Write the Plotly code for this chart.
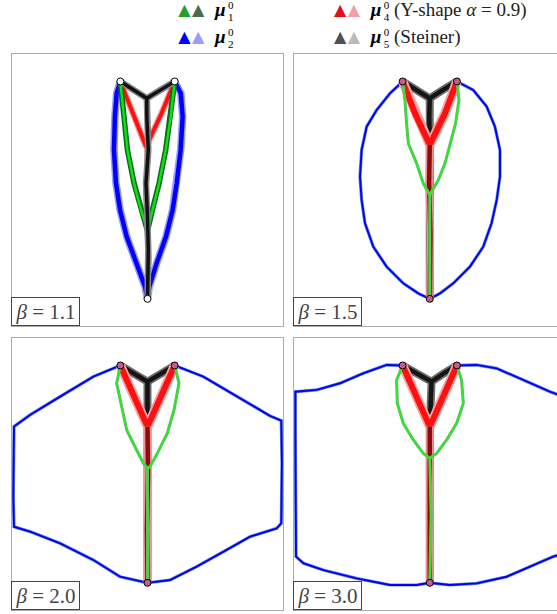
import plotly.graph_objects as go

W, H = 557, 614

TERM_X = [-0.2, 0.2, 0.0]
TERM_Y = [0.8, 0.8, -0.8]
BETAS = ["1.1", "1.5", "2.0", "3.0"]

# ---- panel 1 (beta = 1.1)
P1_BLUE = [(-0.2, 0.8), (-0.227, 0.713), (-0.240, 0.541), (-0.247, 0.296), (-0.232, 0.05), (-0.202, -0.146),
           (-0.153, -0.343), (-0.08, -0.539), (-0.018, -0.711), (0, -0.8), (0.013, -0.711), (0.067, -0.539),
           (0.136, -0.343), (0.185, -0.146), (0.215, 0.05), (0.244, 0.296), (0.259, 0.541), (0.245, 0.713), (0.2, 0.8)]
P1_GREEN = [(-0.2, 0.8), (-0.173, 0.541), (-0.148, 0.296), (-0.099, 0.05), (-0.048, -0.146), (0, -0.3),
            (0.036, -0.146), (0.085, 0.05), (0.134, 0.296), (0.171, 0.541), (0.2, 0.8), None,
            (0, -0.3), (0.008, -0.5), (0, -0.8)]
P1_RED_ARMS = [(-0.2, 0.8), (-0.104, 0.566), (-0.01, 0.32), (0.104, 0.566), (0.2, 0.8)]
P1_RED_STEM = [(-0.01, 0.32), (-0.005, 0.05), (0, -0.3), (0, -0.8)]
P1_BLACK = [(-0.2, 0.8), (-0.1, 0.74), (-0.005, 0.676), (0.1, 0.74), (0.2, 0.8), None,
            (-0.005, 0.676), (-0.005, 0.541), (0.006, 0.296), (-0.011, 0.05), (0, -0.195),
            (0.006, -0.441), (0.002, -0.686), (0, -0.8)]

# ---- panel 2 (beta = 1.5)
P2_BLUE = [(-0.2, 0.8), (-0.293, 0.713), (-0.391, 0.59), (-0.465, 0.467), (-0.502, 0.296), (-0.514, 0.099),
           (-0.502, -0.072), (-0.477, -0.244), (-0.416, -0.416), (-0.318, -0.563), (-0.195, -0.686),
           (-0.085, -0.76), (0, -0.8), (0.075, -0.76), (0.173, -0.686), (0.296, -0.563), (0.394, -0.416),
           (0.455, -0.244), (0.493, -0.072), (0.517, 0.099), (0.517, 0.296), (0.48, 0.467), (0.419, 0.615),
           (0.32, 0.737), (0.2, 0.8)]
P2_GREEN = [(-0.2, 0.8), (-0.183, 0.663), (-0.171, 0.491), (-0.158, 0.344), (-0.097, 0.197), (-0.048, 0.05),
            (0, -0.036), (0.063, 0.075), (0.112, 0.197), (0.153, 0.344), (0.19, 0.491), (0.215, 0.663),
            (0.2, 0.8), None, (0, -0.036), (0, -0.8)]
P2_RED_ARMS = [(-0.2, 0.8), (-0.109, 0.566), (0, 0.333), (0.112, 0.566), (0.2, 0.8)]
P2_RED_STEM = [(0, 0.333), (-0.005, 0.05), (0.005, -0.32), (0, -0.8)]
P2_BLACK = [(-0.2, 0.8), (-0.1, 0.74), (0, 0.676), (0.1, 0.74), (0.2, 0.8), None,
            (0, 0.676), (-0.004, 0.541), (0, 0.369), (0, -0.8)]

# ---- panel 3 (beta = 2.0)
P3_BLUE = [(-0.2, 0.8), (-0.399, 0.718), (-0.644, 0.571), (-0.865, 0.436), (-0.983, 0.35), (-0.988, 0.08),
           (-0.988, -0.166), (-0.983, -0.387), (-0.865, -0.423), (-0.644, -0.509), (-0.399, -0.632),
           (-0.202, -0.755), (0, -0.8), (0.166, -0.779), (0.362, -0.681), (0.583, -0.558), (0.755, -0.46),
           (0.951, -0.399), (0.985, -0.362), (0.99, 0.08), (0.985, 0.394), (0.902, 0.429), (0.656, 0.571),
           (0.411, 0.718), (0.2, 0.8)]
P3_GREEN = [(-0.2, 0.8), (-0.227, 0.669), (-0.19, 0.497), (-0.153, 0.325), (-0.092, 0.202), (-0.031, 0.08),
            (0, 0.043), (0.018, 0.055), (0.072, 0.153), (0.146, 0.301), (0.195, 0.472), (0.232, 0.669),
            (0.2, 0.8), None, (0, 0.043), (0, -0.8)]
P3_RED_ARMS = [(-0.2, 0.8), (-0.104, 0.583), (0, 0.35), (0.104, 0.583), (0.2, 0.8)]
P3_RED_STEM = [(0, 0.35), (0.004, 0.0), (-0.004, -0.4), (0, -0.8)]
P3_BLACK = [(-0.2, 0.8), (-0.1, 0.74), (0, 0.681), (0.1, 0.74), (0.2, 0.8), None,
            (0, 0.681), (0, 0.37), (0, -0.8)]

# ---- panel 4 (beta = 3.0)
P4_BLUE = [(-0.2, 0.8), (-0.318, 0.804), (-0.49, 0.742), (-0.661, 0.669), (-0.833, 0.62), (-0.99, 0.607),
           (-0.99, 0.325), (-0.99, -0.043), (-0.99, -0.411), (-0.985, -0.607), (-0.931, -0.656),
           (-0.784, -0.706), (-0.539, -0.767), (-0.293, -0.816), (-0.097, -0.816), (0, -0.8),
           (0.148, -0.816), (0.345, -0.804), (0.566, -0.755), (0.737, -0.681), (0.909, -0.607),
           (0.99, -0.583), (0.99, 0.57), (0.885, 0.607), (0.688, 0.693), (0.492, 0.779), (0.345, 0.804), (0.2, 0.8)]
P4_GREEN = [(-0.2, 0.8), (-0.244, 0.693), (-0.239, 0.521), (-0.195, 0.374), (-0.121, 0.252), (-0.048, 0.153),
            (0, 0.117), (0.05, 0.153), (0.124, 0.252), (0.198, 0.374), (0.247, 0.521), (0.234, 0.693),
            (0.2, 0.8), None, (0, 0.117), (0.01, -0.3), (0, -0.8)]
P4_RED_ARMS = [(-0.2, 0.8), (-0.102, 0.583), (0, 0.35), (0.104, 0.583), (0.2, 0.8)]
P4_RED_STEM = [(0, 0.35), (0, -0.8)]
P4_BLACK = [(-0.2, 0.8), (-0.09, 0.74), (0.013, 0.681), (0.1, 0.74), (0.2, 0.8), None,
            (0.013, 0.681), (0, 0.35), (0, -0.8)]

# ---- legend entries
LEG_COLORS = [("#22a02a", "#4a6a4a"), ("#0000ff", "#9b9bff"), ("#e0101a", "#f0a0a4"), ("#505050", "#bbbbbb")]
LEG_SUB = ["1", "2", "4", "5"]
LEG_EXTRA = ["", "", "(Y-shape <i>α</i> = 0.9)", "(Steiner)"]

PANELS = [
    dict(blue=P1_BLUE, green=P1_GREEN, red_arms=P1_RED_ARMS, red_stem=P1_RED_STEM, black=P1_BLACK),
    dict(blue=P2_BLUE, green=P2_GREEN, red_arms=P2_RED_ARMS, red_stem=P2_RED_STEM, black=P2_BLACK),
    dict(blue=P3_BLUE, green=P3_GREEN, red_arms=P3_RED_ARMS, red_stem=P3_RED_STEM, black=P3_BLACK),
    dict(blue=P4_BLUE, green=P4_GREEN, red_arms=P4_RED_ARMS, red_stem=P4_RED_STEM, black=P4_BLACK),
]

# pixel boxes of the panels (left, top, right, bottom) and x-range
BOXES = [(11.7, 54.3, 283.3, 326.0), (294.0, 54.3, 557.0, 326.0),
         (11.7, 338.3, 283.3, 610.0), (294.0, 338.3, 557.0, 610.0)]
XMAX = [1.0, 0.937, 1.0, 0.937]


def split(pts):
    xs, ys = [], []
    for p in pts:
        if p is None:
            xs.append(None); ys.append(None)
        else:
            xs.append(p[0]); ys.append(p[1])
    return xs, ys


fig = go.Figure()

for i, pan in enumerate(PANELS):
    ax = "" if i == 0 else str(i + 1)
    xr, yr = "x" + ax, "y" + ax
    if i == 0:
        styles = {
            "blue": [("#9a9aff", 7.5), ("#0000ff", 4.5)],
            "red_arms": [("#f0a0a0", 6.5), ("#ff1010", 4)],
            "red_stem": [("#c06060", 3.5), ("#8b0000", 2)],
            "green": [("#0a6a20", 5.5), ("#10e010", 2.5)],
            "black": [("#888888", 6.5), ("#111111", 3.5)],
        }
        order = ["blue", "red_arms", "red_stem", "green", "black"]
        term_fill = "white"
    else:
        styles = {
            "blue": [("#6a8ccc", 3.2), ("#0000ff", 1.9)],
            "black": [("#6e6e6e", 8), ("#151515", 4.5)],
            "red_arms": [("#f4a4a4", 9.5), ("#ff0f0f", 6)],
            "red_stem": [("#f09090", 7.5), ("#8a0c0c", 4.5)],
            "green": [("#8aa08a", 3), ("#22ee22", 2)],
        }
        order = ["blue", "black", "red_arms", "red_stem", "green"]
        term_fill = "#c0608a"
    for key in order:
        xs, ys = split(pan[key])
        for col, w in styles[key]:
            fig.add_trace(go.Scatter(x=xs, y=ys, mode="lines", xaxis=xr, yaxis=yr,
                                     line=dict(color=col, width=w),
                                     showlegend=False, hoverinfo="skip"))
    fig.add_trace(go.Scatter(x=TERM_X, y=TERM_Y, mode="markers", xaxis=xr, yaxis=yr,
                             marker=dict(symbol="circle", size=7, color=term_fill,
                                         line=dict(color="black", width=1)),
                             showlegend=False, hoverinfo="skip"))

    l, t, r, b = BOXES[i]
    fig.layout["xaxis" + ax] = dict(domain=[l / W, r / W], range=[-1, XMAX[i]], anchor=yr,
                                    showgrid=False, zeroline=False, showticklabels=False, ticks="",
                                    showline=True, linecolor="#aaaaaa", linewidth=1, mirror=True)
    fig.layout["yaxis" + ax] = dict(domain=[1 - b / H, 1 - t / H], range=[-1, 1], anchor=xr,
                                    showgrid=False, zeroline=False, showticklabels=False, ticks="",
                                    showline=True, linecolor="#aaaaaa", linewidth=1,
                                    mirror=(True if XMAX[i] >= 1 else False))

# ---- legend drawn on a full-page overlay axis (pixel units)
fig.layout["xaxis5"] = dict(domain=[0, 1], range=[0, W], visible=False, anchor="y5")
fig.layout["yaxis5"] = dict(domain=[0, 1], range=[H, 0], visible=False, anchor="x5")

serif = "Liberation Serif"
COLS = [(178.3, 3.5), (178.3, 30.5), (334.0, 3.5), (334.0, 30.5)]  # top-left of each legend entry, pixels
for (c1, c2), sub, extra, (px, py) in zip(LEG_COLORS, LEG_SUB, LEG_EXTRA, COLS):
    fig.add_trace(go.Scatter(x=[px + 6.2, px + 19.8], y=[py + 7.5, py + 7.5], mode="text", text=["▲", "▲"],
                             textfont=dict(family="DejaVu Sans", size=16, color=[c1, c2]),
                             textposition="middle center", xaxis="x5", yaxis="y5",
                             cliponaxis=False, showlegend=False, hoverinfo="skip"))
    fig.add_trace(go.Scatter(x=[px + 42], y=[py + 8], mode="text", text=["<b><i>μ</i></b>"],
                             textfont=dict(family=serif, size=19, color="black"),
                             textposition="middle center", xaxis="x5", yaxis="y5",
                             cliponaxis=False, showlegend=False, hoverinfo="skip"))
    fig.add_trace(go.Scatter(x=[px + 52.5, px + 52.5], y=[py + 3.2, py + 15], mode="text", text=["0", sub],
                             textfont=dict(family=serif, size=11, color="black"),
                             textposition="middle center", xaxis="x5", yaxis="y5",
                             cliponaxis=False, showlegend=False, hoverinfo="skip"))
    if extra:
        fig.add_trace(go.Scatter(x=[px + 60], y=[py + 8], mode="text", text=[extra],
                                 textfont=dict(family=serif, size=19, color="#222222"),
                                 textposition="middle right", xaxis="x5", yaxis="y5",
                                 cliponaxis=False, showlegend=False, hoverinfo="skip"))

annotations = []
for i, bt in enumerate(BETAS):
    l, t, r, b = BOXES[i]
    annotations.append(dict(x=(l - 0.7) / W, y=1 - (b - 0.5) / H, xref="paper", yref="paper",
                            xanchor="left", yanchor="bottom", showarrow=False,
                            text="<i>β</i> = " + bt, width=65, height=25, borderpad=1,
                            font=dict(family=serif, size=21, color="#444444"),
                            bordercolor="#444444", borderwidth=1, bgcolor="white"))

fig.update_layout(width=W, height=H, margin=dict(l=0, r=0, t=0, b=0),
                  paper_bgcolor="white", plot_bgcolor="rgba(0,0,0,0)", showlegend=False,
                  annotations=annotations)

fig.write_html("out.html")
